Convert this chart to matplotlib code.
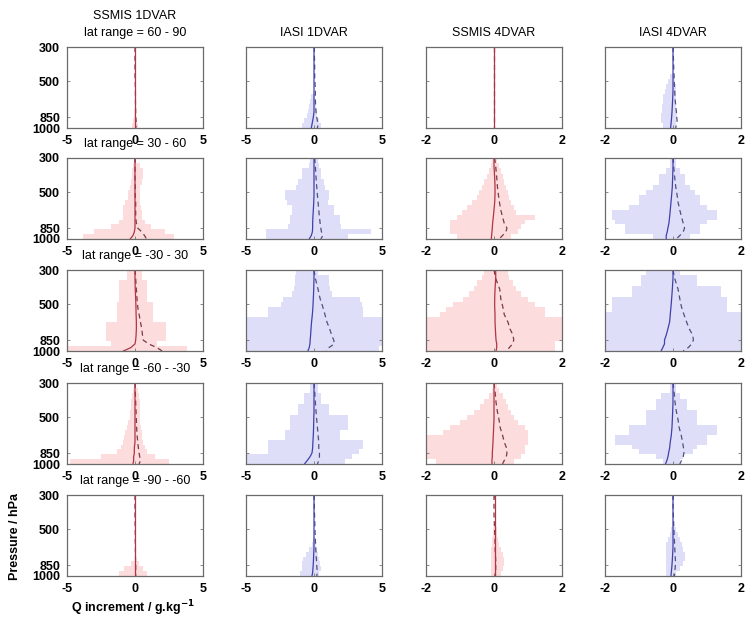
import matplotlib
matplotlib.use("Agg")
import matplotlib.pyplot as plt
import numpy as np

plt.rcParams['font.family'] = ['Liberation Sans', 'DejaVu Sans']

# ============================================================
# DATA
# ============================================================
col_titles = ["SSMIS 1DVAR", "IASI 1DVAR", "SSMIS 4DVAR", "IASI 4DVAR"]
lat_ranges = ["60 - 90", "30 - 60", "-30 - 30", "-60 - -30", "-90 - -60"]
col_xlim = [5, 5, 2, 2]
col_is_ssmis = [True, False, True, False]

# pressure level edges of the histogram bins (hPa), top -> bottom
p_edges = [300, 325, 350, 380, 410, 445, 480, 520, 560, 605, 650, 700, 750, 805, 860, 930, 1000]
# pressure levels of the profile lines
p_line = [300, 340, 400, 460, 520, 580, 650, 720, 790, 850, 900, 950, 1000]

# spread of increments (left / right edge of shading), one list per lat row
ssmis1d_lo = [
    [0, 0, 0, 0, 0, 0, 0, 0, 0, 0, 0, 0, -0.05, -0.1, -0.15, -0.2],
    [-0.1, -0.15, -0.2, -0.25, -0.3, -0.4, -0.5, -0.55, -0.7, -0.85, -0.9, -0.9, -1.2, -1.8, -3.0, -3.8],
    [-0.6, -0.6, -1.2, -1.2, -1.2, -1.2, -1.3, -1.3, -1.3, -1.3, -2.1, -2.1, -2.1, -2.1, -1.8, -5.0],
    [-0.1, -0.15, -0.2, -0.3, -0.3, -0.35, -0.4, -0.5, -0.6, -0.7, -0.8, -0.9, -1.0, -1.3, -2.5, -4.8],
    [0, 0, 0, 0, 0, 0, 0, 0, 0, 0, 0, 0, 0, -0.3, -0.8, -1.2],
]
ssmis1d_hi = [
    [0, 0, 0, 0, 0, 0, 0, 0, 0, 0, 0, 0, 0.05, 0.1, 0.15, 0.2],
    [0.1, 0.4, 0.6, 0.6, 0.55, 0.4, 0.35, 0.35, 0.4, 0.45, 0.5, 0.5, 0.7, 1.2, 2.2, 2.9],
    [0.5, 0.5, 0.85, 0.85, 0.85, 0.85, 1.3, 1.3, 1.3, 1.3, 2.3, 2.3, 2.3, 2.3, 1.6, 3.8],
    [0.1, 0.2, 0.3, 0.4, 0.4, 0.35, 0.35, 0.4, 0.45, 0.5, 0.5, 0.6, 0.7, 0.9, 1.5, 2.5],
    [0, 0, 0, 0, 0, 0, 0, 0, 0, 0, 0, 0, 0, 0.3, 0.6, 0.85],
]
iasi1d_lo = [
    [0, 0, 0, 0, 0, 0, 0, 0, 0, -0.25, -0.3, -0.35, -0.45, -0.5, -0.7, -0.9],
    [-0.3, -0.4, -0.9, -0.9, -1.2, -1.3, -2.1, -2.1, -2.0, -1.6, -1.6, -1.8, -1.8, -1.9, -3.5, -3.5],
    [-1.3, -1.4, -1.4, -1.5, -1.6, -2.3, -2.4, -3.4, -3.4, -5, -5, -5, -5, -5, -5, -5],
    [-0.3, -0.3, -0.7, -0.7, -1.2, -1.2, -1.8, -1.8, -1.8, -2.1, -2.1, -3.4, -3.4, -3.4, -5.0, -5.0],
    [0, 0, 0, 0, 0, 0, 0, 0, -0.1, -0.15, -0.4, -0.6, -0.8, -0.9, -0.9, -1.0],
]
iasi1d_hi = [
    [0, 0, 0, 0, 0, 0, 0, 0, 0, 0.1, 0.15, 0.15, 0.2, 0.25, 0.35, 0.5],
    [0.3, 0.35, 0.5, 0.5, 0.7, 0.8, 1.1, 1.1, 1.0, 1.5, 1.5, 1.9, 1.9, 2.0, 4.2, 2.5],
    [0.3, 1.1, 1.1, 1.2, 1.3, 3.4, 3.5, 3.6, 3.6, 5, 5, 5, 5, 5, 5, 4.8],
    [0.3, 0.3, 0.55, 0.55, 1.1, 1.1, 2.5, 2.5, 2.5, 1.9, 1.9, 3.6, 3.6, 3.3, 2.8, 2.3],
    [0, 0, 0, 0, 0, 0, 0, 0, 0.1, 0.15, 0.2, 0.3, 0.4, 0.45, 0.5, 0.4],
]
ssmis4d_lo = [
    [0] * 16,
    [-0.05, -0.1, -0.15, -0.2, -0.3, -0.35, -0.45, -0.5, -0.65, -0.8, -0.95, -1.1, -1.3, -1.3, -1.3, -1.1],
    [-0.3, -0.35, -0.5, -0.6, -0.75, -0.9, -1.2, -1.4, -1.6, -2, -2, -2, -2, -2, -2, -2],
    [0, -0.05, -0.15, -0.3, -0.4, -0.6, -0.8, -1.0, -1.3, -1.5, -2, -2, -2, -2, -2, -1.7],
    [0, 0, 0, 0, 0, 0, -0.02, -0.03, -0.05, -0.05, -0.08, -0.1, -0.1, -0.1, -0.1, -0.1],
]
ssmis4d_hi = [
    [0] * 16,
    [0.1, 0.15, 0.2, 0.25, 0.3, 0.35, 0.4, 0.45, 0.5, 0.6, 0.65, 1.2, 0.9, 0.8, 0.7, 0.5],
    [0.4, 0.45, 0.55, 0.65, 0.8, 1.0, 1.2, 1.5, 1.5, 2, 2, 2, 2, 2, 1.8, 1.8],
    [0.1, 0.15, 0.25, 0.35, 0.4, 0.5, 0.6, 0.7, 0.9, 1.0, 1.0, 1.0, 0.9, 0.9, 0.8, 0.6],
    [0, 0, 0, 0, 0, 0, 0.08, 0.1, 0.12, 0.15, 0.2, 0.25, 0.3, 0.3, 0.25, 0.2],
]
iasi4d_lo = [
    [0, 0, 0, 0, 0, -0.1, -0.15, -0.2, -0.25, -0.3, -0.3, -0.32, -0.33, -0.35, -0.35, -0.3],
    [-0.1, -0.1, -0.2, -0.4, -0.4, -0.6, -0.8, -1.0, -1.0, -1.3, -1.8, -1.8, -1.7, -1.4, -1.4, -0.6],
    [-0.8, -0.95, -0.95, -1.2, -1.2, -1.8, -1.8, -1.8, -2, -2, -2, -2, -2, -2, -2, -2],
    [-0.1, -0.1, -0.35, -0.5, -0.5, -0.8, -0.8, -0.8, -1.3, -1.3, -1.7, -1.7, -1.2, -1.0, -0.5, -0.3],
    [0, 0, 0, 0, 0, 0, -0.05, -0.1, -0.15, -0.2, -0.2, -0.2, -0.2, -0.2, -0.2, -0.2],
]
iasi4d_hi = [
    [0, 0, 0, 0, 0, 0.05, 0.05, 0.08, 0.08, 0.1, 0.1, 0.1, 0.12, 0.12, 0.1, 0.08],
    [0.1, 0.1, 0.2, 0.35, 0.35, 0.5, 0.65, 0.8, 0.8, 1.0, 1.3, 1.3, 1.0, 0.8, 0.8, 0.5],
    [0.2, 0.7, 0.7, 1.4, 1.4, 1.6, 1.6, 1.6, 2, 2, 2, 2, 2, 2, 2, 2],
    [0.1, 0.1, 0.2, 0.4, 0.4, 0.7, 0.7, 0.7, 1.3, 1.3, 1.0, 1.0, 0.7, 0.6, 0.3, 0.2],
    [0, 0, 0, 0, 0, 0, 0.1, 0.15, 0.2, 0.25, 0.3, 0.35, 0.35, 0.3, 0.2, 0.1],
]

# mean increment profile (solid) and dashed profile
ssmis1d_mean = [
    [0] * 13,
    [0, 0, 0, 0, 0, 0, 0, 0, 0, 0, -0.05, -0.15, -0.35],
    [0, 0, 0.02, 0.05, 0.07, 0.08, 0.1, 0.1, 0.08, 0.05, 0, -0.3, -0.85],
    [0, 0, 0, 0, 0, 0, 0, 0, -0.05, -0.05, -0.1, -0.1, -0.15],
    [0] * 13,
]
ssmis1d_dash = [
    [0, 0, 0, 0, 0.02, 0.03, 0.03, 0.04, 0.05, 0.05, 0.08, 0.1, 0.05],
    [0, 0, 0, 0.02, 0.02, 0.05, 0.05, 0.05, 0.1, 0.2, 0.5, 0.7, 0.85],
    [0, 0.05, 0.1, 0.15, 0.2, 0.3, 0.4, 0.5, 0.55, 0.6, 1.0, 1.6, 2.0],
    [0, 0.02, 0.05, 0.08, 0.1, 0.12, 0.15, 0.2, 0.25, 0.3, 0.35, 0.4, 0.3],
    [0, 0, 0, 0.01, 0.02, 0.02, 0.03, 0.03, 0.04, 0.05, 0.05, 0.05, 0.05],
]
iasi1d_mean = [
    [0, 0, 0, 0, 0, 0, 0, 0, 0, -0.05, -0.1, -0.15, -0.2],
    [0, 0, 0, 0, 0, -0.02, -0.05, -0.08, -0.1, -0.1, -0.12, -0.2, -0.35],
    [0, 0, -0.02, -0.05, -0.08, -0.12, -0.18, -0.22, -0.25, -0.28, -0.3, -0.35, -0.45],
    [0, 0, 0, 0, -0.02, -0.03, -0.05, -0.08, -0.1, -0.15, -0.3, -0.5, -0.7],
    [0, 0, 0, 0, 0, 0, 0, -0.02, -0.04, -0.06, -0.08, -0.1, -0.15],
]
iasi1d_dash = [
    [0.02, 0.03, 0.05, 0.05, 0.08, 0.1, 0.1, 0.12, 0.15, 0.2, 0.25, 0.3, 0.25],
    [0.05, 0.1, 0.15, 0.2, 0.25, 0.3, 0.35, 0.4, 0.45, 0.5, 0.55, 0.65, 0.5],
    [0, 0.1, 0.3, 0.45, 0.65, 0.8, 0.95, 1.15, 1.3, 1.45, 1.5, 1.1, 0.9],
    [0, 0.05, 0.1, 0.15, 0.2, 0.25, 0.3, 0.35, 0.35, 0.4, 0.4, 0.35, 0.25],
    [0, 0.02, 0.04, 0.06, 0.08, 0.1, 0.12, 0.15, 0.18, 0.2, 0.22, 0.25, 0.2],
]
ssmis4d_mean = [
    [0] * 13,
    [0, 0, 0.02, 0.03, 0.03, 0.02, 0.0, -0.02, -0.04, -0.05, -0.06, -0.07, -0.08],
    [0.05, 0.05, 0.03, 0.02, 0.02, 0.03, 0.03, 0.04, 0.05, 0.06, 0.08, 0.08, 0.06],
    [0, 0, 0, 0, 0, -0.01, -0.02, -0.03, -0.04, -0.05, -0.05, -0.06, -0.06],
    [0.02] * 13,
]
ssmis4d_dash = [
    [0] * 13,
    [0.02, 0.05, 0.08, 0.1, 0.13, 0.16, 0.2, 0.25, 0.3, 0.38, 0.35, 0.25, 0.15],
    [0, 0.05, 0.17, 0.2, 0.26, 0.3, 0.41, 0.47, 0.56, 0.58, 0.55, 0.45, 0.38],
    [0, 0.03, 0.06, 0.1, 0.15, 0.18, 0.25, 0.3, 0.37, 0.38, 0.36, 0.3, 0.25],
    [0, 0, 0, 0.01, 0.02, 0.03, 0.03, 0.04, 0.05, 0.05, 0.05, 0.05, 0.04],
]
iasi4d_mean = [
    [0, 0, 0, 0, 0, 0, -0.01, -0.02, -0.03, -0.04, -0.05, -0.06, -0.07],
    [0, 0, -0.01, -0.02, -0.04, -0.06, -0.08, -0.1, -0.12, -0.15, -0.17, -0.2, -0.2],
    [0, 0, -0.02, -0.04, -0.06, -0.08, -0.1, -0.15, -0.2, -0.25, -0.25, -0.3, -0.35],
    [0, 0, 0, -0.01, -0.02, -0.03, -0.05, -0.08, -0.1, -0.13, -0.15, -0.18, -0.22],
    [0, 0, 0, 0, 0, 0, 0.0, -0.01, -0.02, -0.03, -0.04, -0.05, -0.06],
]
iasi4d_dash = [
    [0, 0.01, 0.02, 0.03, 0.04, 0.05, 0.06, 0.08, 0.1, 0.11, 0.12, 0.1, 0.08],
    [0, 0.02, 0.05, 0.08, 0.12, 0.15, 0.2, 0.25, 0.3, 0.34, 0.3, 0.2, 0.1],
    [0, 0.05, 0.15, 0.2, 0.25, 0.32, 0.4, 0.48, 0.58, 0.6, 0.55, 0.45, 0.3],
    [0, 0.03, 0.06, 0.1, 0.15, 0.18, 0.24, 0.28, 0.31, 0.32, 0.3, 0.25, 0.2],
    [0, 0, 0.01, 0.02, 0.03, 0.04, 0.05, 0.06, 0.07, 0.07, 0.06, 0.05, 0.04],
]

col_lo = [ssmis1d_lo, iasi1d_lo, ssmis4d_lo, iasi4d_lo]
col_hi = [ssmis1d_hi, iasi1d_hi, ssmis4d_hi, iasi4d_hi]
col_mean = [ssmis1d_mean, iasi1d_mean, ssmis4d_mean, iasi4d_mean]
col_dash = [ssmis1d_dash, iasi1d_dash, ssmis4d_dash, iasi4d_dash]

# ============================================================
# LAYOUT (pixels of a 746 x 623 figure)
# ============================================================
W, H = 746, 623
col_left = [67, 246, 426, 605]
row_top = [47, 158, 270, 383, 495]
ax_w, ax_h = 136, 81

fig = plt.figure(figsize=(W / 100, H / 100), dpi=100)

edges = np.array(p_edges, dtype=float)
for r in range(5):
    for c in range(4):
        ax = fig.add_axes([col_left[c] / W, 1 - (row_top[r] + ax_h) / H, ax_w / W, ax_h / H])
        if col_is_ssmis[c]:
            fill_col, line_col, dash_col = "#fcdcdc", "#b03444", "#7a3a48"
        else:
            fill_col, line_col, dash_col = "#dedef8", "#4040aa", "#50507e"
        lo = np.array(col_lo[c][r])
        hi = np.array(col_hi[c][r])
        ax.barh(edges[:-1], hi - lo, height=edges[1:] - edges[:-1], left=lo,
                align="edge", color=fill_col, linewidth=0)
        ax.plot(col_dash[c][r], p_line, color=dash_col, lw=0.9, ls=(0, (4, 3)))
        ax.plot(col_mean[c][r], p_line, color=line_col, lw=0.9)

        ax.set_yscale("log")
        ax.set_ylim(1000, 300)
        ax.set_xlim(-col_xlim[c], col_xlim[c])
        ax.set_yticks([300, 500, 850, 1000])
        ax.yaxis.set_minor_locator(matplotlib.ticker.NullLocator())
        ax.set_xticks([-col_xlim[c], 0, col_xlim[c]])
        ax.set_xticklabels([str(-col_xlim[c]), "0", str(col_xlim[c])])
        if c == 0:
            ax.set_yticklabels(["300", "500", "850", "1000"])
        else:
            ax.set_yticklabels([])
        ax.tick_params(direction="in", length=2.5, width=0.6, color="#777777",
                       top=True, right=True, labelsize=9, pad=5)
        for lab in ax.get_xticklabels() + ax.get_yticklabels():
            lab.set_fontweight("bold")
        for s in ax.spines.values():
            s.set_color("#6a6a6a")
            s.set_linewidth(0.9)

        if c == 0:
            if r == 0:
                ax.set_title("SSMIS 1DVAR\nlat range = " + lat_ranges[r],
                             fontsize=9, pad=8, linespacing=1.5)
            else:
                ax.set_title("lat range = " + lat_ranges[r], fontsize=9, pad=8)
        elif r == 0:
            ax.set_title(col_titles[c], fontsize=9, pad=8)

fig.text(15 / W, 1 - 537 / H, "Pressure / hPa", rotation=90, ha="center", va="center",
         fontsize=9, fontweight="bold")
fig.text(133 / W, 1 - 608 / H, r"Q increment / g.kg$^{\mathbf{-1}}$", ha="center", va="center",
         fontsize=9, fontweight="bold")

fig.savefig("out.png", dpi=100)
